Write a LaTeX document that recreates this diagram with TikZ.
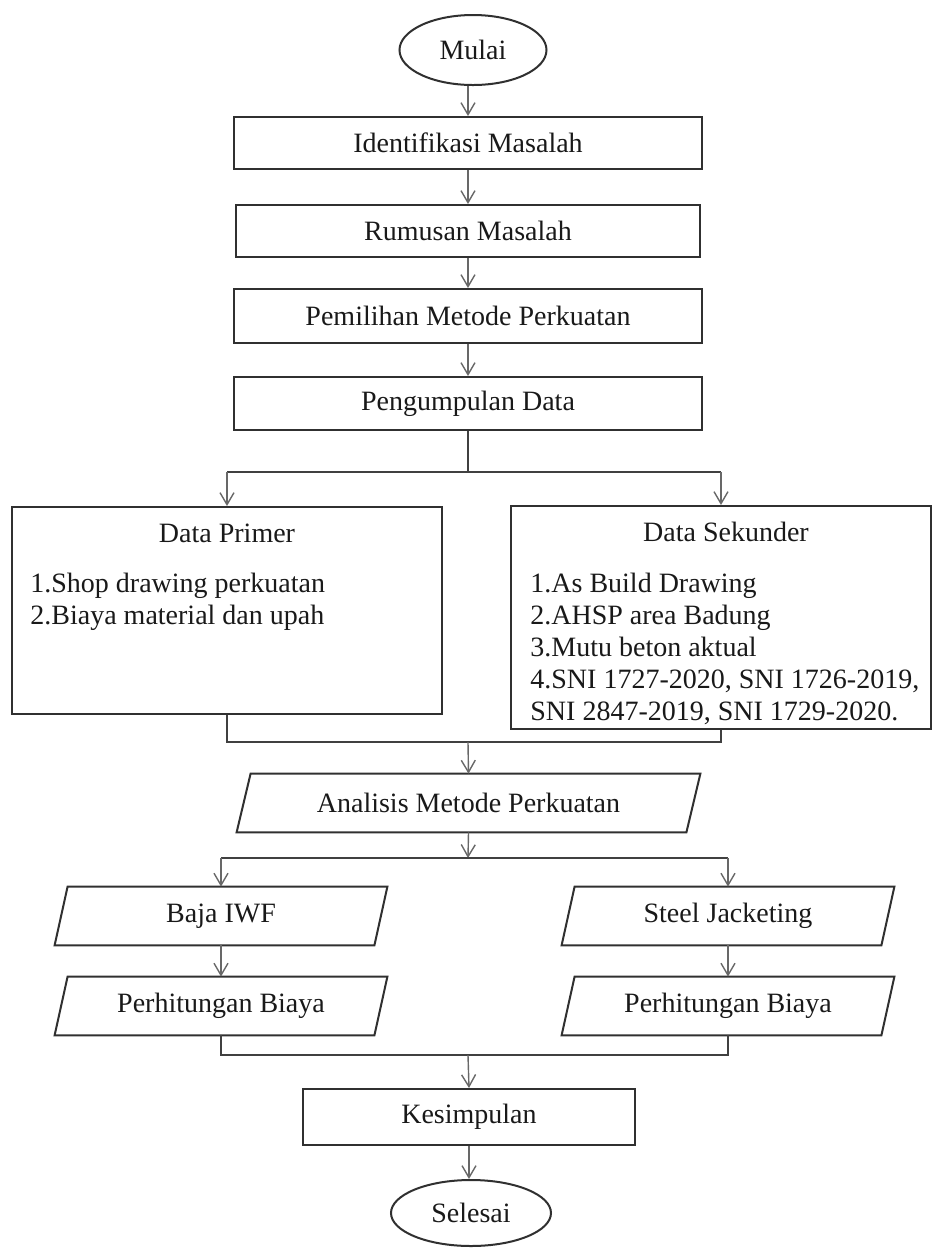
\documentclass[tikz,border=0pt]{standalone}
\usepackage{fontspec}
\setmainfont{Liberation Serif}
\usetikzlibrary{arrows.meta,shapes.geometric}
\definecolor{boxc}{HTML}{303030}
\definecolor{arrc}{HTML}{686868}
\definecolor{linec}{HTML}{404040}
\newcommand\drawpara[2]{\draw[pline] ([xshift=#2]#1.north west) -- ([xshift=#2]#1.north east) -- ([xshift=-#2]#1.south east) -- ([xshift=-#2]#1.south west) -- cycle;}
\begin{document}
\begin{tikzpicture}[x=0.5pt,y=-0.5pt,
  every node/.style={font=\fontsize{14}{16}\selectfont, text=black!90},
  proc/.style={draw=boxc, line width=1pt, inner sep=0pt},
  term/.style={ellipse, draw=boxc, line width=1pt, inner sep=0pt},
  para/.style={inner sep=0pt},
  pline/.style={draw=boxc, line width=1pt, line join=miter},
  txt/.style={inner sep=0pt},
  item/.style={inner sep=0pt, anchor=base west},
  arr/.style={draw=arrc, line width=0.7pt, -{Straight Barb[length=6pt,width=7pt]}},
  jline/.style={draw=linec, line width=0.9pt}]
\useasboundingbox (0,0) rectangle (933,1250);

% terminals and process boxes
\node[term, minimum width=73.5pt, minimum height=35pt] (mulai) at (473,50) {Mulai};
\node[proc, minimum width=234pt, minimum height=26pt] (ident) at (468,143) {Identifikasi Masalah};
\node[proc, minimum width=232pt, minimum height=26pt] (rumus) at (468,231) {Rumusan Masalah};
\node[proc, minimum width=234pt, minimum height=27pt] (pilih) at (468,316) {Pemilihan Metode Perkuatan};
\node[proc, minimum width=234pt, minimum height=26.5pt] (kumpul) at (468,403.5) {Pengumpulan Data};

% data boxes
\node[proc, minimum width=215pt, minimum height=103.5pt] (primer) at (227,610.5) {};
\node[txt] (primerT) at (227,533) {Data Primer};
\node[item] (p1) at (30,592) {1.Shop drawing perkuatan};
\node[item] (p2) at (30,624) {2.Biaya material dan upah};

\node[proc, minimum width=210pt, minimum height=111.5pt] (sekunder) at (721,617.5) {};
\node[txt] (sekT) at (726,532) {Data Sekunder};
\node[item] (s1) at (530,592) {1.As Build Drawing};
\node[item] (s2) at (530,624) {2.AHSP area Badung};
\node[item] (s3) at (530,656) {3.Mutu beton aktual};
\node[item] (s4) at (530,688) {4.SNI 1727-2020, SNI 1726-2019,};
\node[item] (s5) at (530,720) {SNI 2847-2019, SNI 1729-2020.};

% parallelograms
\node[para, minimum width=224.5pt, minimum height=29pt] (anal) at (468.5,803) {Analisis Metode Perkuatan};
\drawpara{anal}{3.5pt}
\node[para, minimum width=159.5pt, minimum height=29pt] (baja) at (221,916) {Baja IWF};
\drawpara{baja}{3.25pt}
\node[para, minimum width=159.5pt, minimum height=29pt] (perhL) at (221,1006) {Perhitungan Biaya};
\drawpara{perhL}{3.25pt}
\node[para, minimum width=159.5pt, minimum height=29pt] (steel) at (728,916) {Steel Jacketing};
\drawpara{steel}{3.25pt}
\node[para, minimum width=159.5pt, minimum height=29pt] (perhR) at (728,1006) {Perhitungan Biaya};
\drawpara{perhR}{3.25pt}

\node[proc, minimum width=166pt, minimum height=28pt] (kesim) at (469,1117) {Kesimpulan};
\node[term, minimum width=80pt, minimum height=33pt] (selesai) at (471,1213) {Selesai};

% junction points
\coordinate (split1) at (468,472);
\coordinate (join1) at (468,742);
\coordinate (split2) at (468,858);
\coordinate (join2) at (468,1055);

% connectors
\draw[arr] (mulai.south -| ident.north) -- (ident.north);
\draw[arr] (ident.south) -- (rumus.north);
\draw[arr] (rumus.south) -- (pilih.north);
\draw[arr] (pilih.south) -- (kumpul.north);
\draw[jline] (kumpul.south) -- (split1);
\draw[jline] (split1 -| primer.north) -- (split1 -| sekunder.north);
\draw[arr] (split1 -| primer.north) -- (primer.north);
\draw[arr] (split1 -| sekunder.north) -- (sekunder.north);
\draw[jline] (primer.south) |- (join1);
\draw[jline] (sekunder.south) |- (join1);
\draw[arr] (join1) -- (anal.north);
\draw[arr] (anal.south) -- (split2);
\draw[jline] (split2 -| baja.north) -- (split2 -| steel.north);
\draw[arr] (split2 -| baja.north) -- (baja.north);
\draw[arr] (split2 -| steel.north) -- (steel.north);
\draw[arr] (baja.south) -- (perhL.north);
\draw[arr] (steel.south) -- (perhR.north);
\draw[jline] (perhL.south) |- (join2);
\draw[jline] (perhR.south) |- (join2);
\draw[arr] (join2) -- (kesim.north);
\draw[arr] (kesim.south) -- (kesim.south |- selesai.north);
\end{tikzpicture}
\end{document}
